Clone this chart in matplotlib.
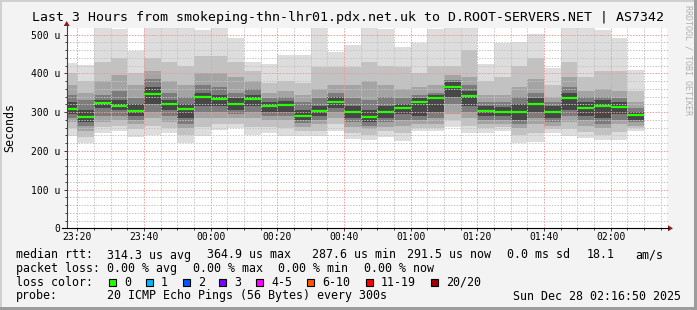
import matplotlib
matplotlib.use('Agg')
import matplotlib.pyplot as plt
import matplotlib.dates as mdates
from matplotlib.patches import Rectangle, Polygon
from matplotlib.lines import Line2D
import numpy as np
import pandas as pd

W, H = 697, 310

# 5 minute steps, 20 pings each: outer band = min..max, inner bands closer to median
bar_start = pd.date_range('2025-12-27 23:15', periods=35, freq='5min')

median_rtt = [309, 288, 322, 316, 303, 346, 320, 307, 340, 333, 320, 333, 315, 317, 291, 302, 327, 299,
              287.6, 301, 311, 327, 337, 364.9, 341, 303, 301, 299, 320, 301, 337, 311, 316, 314, 291.5]

ping_max = [426, 422, 520, 515, 458, 520, 520, 520, 512, 520, 492, 430, 423, 448, 448, 520, 455, 474,
            520, 514, 467, 478, 514, 520, 517, 424, 478, 480, 501, 413, 520, 520, 512, 490, 408]
up2 = [400, 380, 430, 440, 400, 440, 430, 420, 445, 445, 430, 405, 375, 380, 375, 415, 415, 415,
       430, 420, 415, 400, 420, 420, 460, 380, 390, 420, 440, 370, 430, 390, 405, 405, 355]
up3 = [370, 350, 380, 395, 370, 405, 380, 370, 400, 400, 390, 380, 350, 355, 345, 360, 370, 370,
       380, 370, 360, 365, 370, 395, 390, 345, 345, 365, 385, 340, 390, 355, 360, 355, 325]
up4 = [345, 330, 345, 355, 335, 385, 350, 340, 370, 365, 350, 360, 335, 340, 325, 335, 350, 335,
       330, 340, 335, 345, 350, 382, 370, 325, 325, 340, 350, 325, 365, 340, 340, 335, 310]
up5 = [325, 305, 330, 330, 320, 365, 330, 320, 350, 345, 335, 345, 325, 328, 305, 315, 340, 315,
       305, 315, 320, 335, 345, 378, 355, 315, 312, 320, 335, 315, 350, 325, 330, 325, 300]
lo5 = [295, 275, 310, 305, 290, 320, 305, 285, 315, 315, 305, 315, 300, 300, 280, 290, 310, 285,
       275, 285, 295, 290, 300, 340, 315, 290, 290, 280, 300, 285, 305, 290, 285, 295, 280]
lo4 = [285, 265, 290, 290, 280, 300, 290, 270, 300, 300, 295, 300, 290, 290, 272, 280, 300, 275,
       265, 275, 280, 280, 285, 320, 300, 280, 280, 270, 285, 275, 290, 280, 270, 280, 273]
lo3 = [275, 250, 275, 280, 270, 285, 275, 258, 285, 285, 285, 285, 280, 280, 262, 270, 285, 262,
       255, 262, 265, 270, 270, 295, 285, 270, 270, 258, 270, 265, 275, 265, 258, 268, 265]
lo2 = [258, 235, 262, 265, 255, 265, 260, 240, 262, 270, 270, 262, 262, 260, 252, 252, 268, 245,
       240, 250, 245, 260, 258, 280, 265, 260, 262, 240, 245, 255, 255, 248, 242, 248, 258]
ping_min = [238, 219, 246, 252, 236, 240, 246, 221, 237, 254, 259, 241, 246, 237, 237, 237, 250, 230,
            227, 236, 226, 250, 250, 262, 245, 247, 252, 219, 223, 245, 238, 232, 227, 228, 250]

xticks = ['23:20', '23:40', '00:00', '00:20', '00:40', '01:00', '01:20', '01:40', '02:00']
xtick_times = pd.to_datetime(['2025-12-27 23:20', '2025-12-27 23:40', '2025-12-28 00:00',
                              '2025-12-28 00:20', '2025-12-28 00:40', '2025-12-28 01:00',
                              '2025-12-28 01:20', '2025-12-28 01:40', '2025-12-28 02:00'])
yticks = [0, 100, 200, 300, 400, 500]
ytick_labels = ['0', '100 u', '200 u', '300 u', '400 u', '500 u']

loss_names = ['0', '1', '2', '3', '4-5', '6-10', '11-19', '20/20']
loss_colors = ['#26ff00', '#00b8ff', '#0059ff', '#7e00ff', '#ff00ff', '#ff5500', '#ff0000', '#a10000']

MONO = 'DejaVu Sans Mono'


def fx(px):
    return px / W


def fy(py):
    return 1 - py / H


fig = plt.figure(figsize=(W / 100, H / 100), dpi=100, facecolor='#f3f3f3')

# frame
fig.patches.append(Rectangle((0, fy(2)), 1, 2 / H, transform=fig.transFigure, color='#cfcfcf', lw=0))
fig.patches.append(Rectangle((0, 0), fx(2), 1, transform=fig.transFigure, color='#cfcfcf', lw=0))
fig.patches.append(Rectangle((0, 0), 1, 3 / H, transform=fig.transFigure, color='#9c9c9c', lw=0))
fig.patches.append(Rectangle((fx(694), 0), 3 / W, 1, transform=fig.transFigure, color='#9c9c9c', lw=0))

x0, x1, ytop, ybot = 66.7, 666.7, 28.3, 228.3
ax = fig.add_axes([fx(x0), fy(ybot), (x1 - x0) / W, (ybot - ytop) / H])
ax.set_facecolor('white')

xs = mdates.date2num(bar_start)
bw = 5 / 1440.0
layers = [(ping_min, ping_max, '#dddddd'), (lo2, up2, '#c2c2c2'), (lo3, up3, '#a4a4a4'),
          (lo4, up4, '#7c7c7c'), (lo5, up5, '#474747')]
for lo, hi, col in layers:
    lo = np.array(lo, dtype=float)
    hi = np.array(hi, dtype=float)
    ax.bar(xs, hi - lo, bottom=lo, width=bw, align='edge', color=col, linewidth=0, zorder=1)

# grid
dot = (0, (1.4, 1.4))
for t in pd.date_range('2025-12-27 23:20', '2025-12-28 02:15', freq='5min'):
    major = t.minute % 20 == 0
    ax.axvline(mdates.date2num(t), color='#f19a9a' if major else '#c4c4c4', lw=0.72,
               linestyle=dot, zorder=3)
for v in range(20, 520, 20):
    major = v % 100 == 0
    ax.axhline(v, color='#f19a9a' if major else '#c4c4c4', lw=0.72, linestyle=dot, zorder=3,
               clip_on=False, xmax=1.003)

ax.hlines(median_rtt, xs, xs + bw, colors='#26ff00', lw=1.6, zorder=5)

ax.set_xlim(mdates.date2num(pd.Timestamp('2025-12-27 23:16:50')),
            mdates.date2num(pd.Timestamp('2025-12-28 02:16:50')))
ax.set_ylim(0, 516)
for s in ax.spines.values():
    s.set_visible(False)

ax.set_xticks(mdates.date2num(xtick_times))
ax.set_xticklabels(xticks, family=MONO, fontsize=7)
ax.set_yticks(yticks)
ax.set_yticklabels(ytick_labels, family=MONO, fontsize=7)
ax.set_yticks(range(20, 520, 20), minor=True)
ax.set_xticks(mdates.date2num(pd.date_range('2025-12-27 23:20', '2025-12-28 02:15', freq='5min')),
              minor=True)
ax.tick_params(axis='both', which='both', direction='out', color='#404040', width=0.72)
ax.tick_params(axis='y', which='major', length=2.2, pad=2.6)
ax.tick_params(axis='y', which='minor', length=1.5)
ax.tick_params(axis='x', which='major', length=2.2, pad=0.8)
ax.tick_params(axis='x', which='minor', length=1.5)

# axis lines with arrows
fig.add_artist(Line2D([fx(x0), fx(x0)], [fy(ybot), fy(25)], transform=fig.transFigure,
                      color='#404040', lw=0.8))
fig.add_artist(Line2D([fx(62), fx(668)], [fy(ybot), fy(ybot)], transform=fig.transFigure,
                      color='#000000', lw=0.8))
fig.patches.append(Polygon([[fx(x0 - 3), fy(26)], [fx(x0 + 3), fy(26)], [fx(x0), fy(21)]],
                           closed=True, transform=fig.transFigure, color='#8b1a1a', lw=0))
fig.patches.append(Polygon([[fx(668), fy(ybot - 3)], [fx(668), fy(ybot + 3)], [fx(673), fy(ybot)]],
                           closed=True, transform=fig.transFigure, color='#8b1a1a', lw=0))

fig.text(fx(348), fy(18), 'Last 3 Hours from smokeping-thn-lhr01.pdx.net.uk to D.ROOT-SERVERS.NET | AS7342',
         ha='center', va='center', family=MONO, fontsize=9.5)
fig.text(fx(10), fy(128), 'Seconds', rotation=90, ha='center', va='center', family=MONO, fontsize=8.4)
fig.text(fx(688), fy(5), 'RRDTOOL / TOBI OETIKER', rotation=270, ha='center', va='top',
         family=MONO, fontsize=6, color='#b0b0b0')

# legend block
fs = 8.4
rows = [
    (255, [(16, 'median rtt:'), (107, '314.3 us avg'), (207, '364.9 us max'), (312, '287.6 us min'),
           (407, '291.5 us now'), (507, '0.0 ms sd'), (587, '18.1'), (635, 'am/s')]),
    (268.5, [(16, 'packet loss:'), (107, '0.00 % avg'), (193, '0.00 % max'), (278, '0.00 % min'),
             (364, '0.00 % now')]),
    (282, [(16, 'loss color:')]),
    (296, [(16, 'probe:'), (107, '20 ICMP Echo Pings (56 Bytes) every 300s'),
           (513, 'Sun Dec 28 02:16:50 2025')]),
]
for yc, items in rows:
    for xp, s in items:
        fig.text(fx(xp), fy(yc), s, ha='left', va='center', family=MONO, fontsize=fs)

box_x = [109, 146, 183, 219, 256, 307, 366, 431]
for bx, name, col in zip(box_x, loss_names, loss_colors):
    fig.patches.append(Rectangle((fx(bx), fy(285.5)), 7 / W, 7 / H, transform=fig.transFigure,
                                 facecolor=col, edgecolor='black', lw=0.8))
    fig.text(fx(bx + 15), fy(282), name, ha='left', va='center', family=MONO, fontsize=fs)

fig.savefig('out.png', dpi=100, facecolor=fig.get_facecolor())
